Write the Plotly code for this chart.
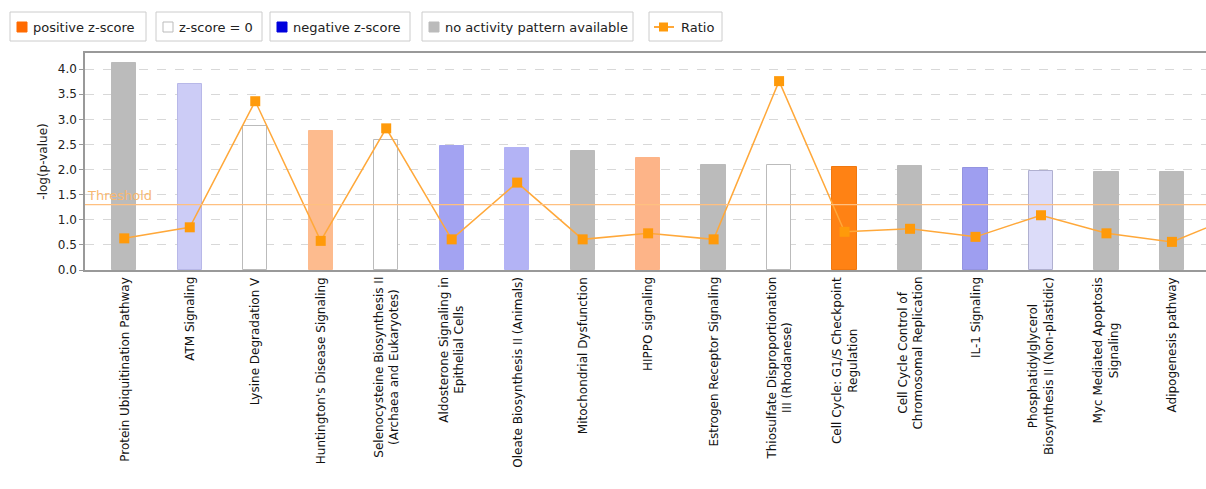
import plotly.graph_objects as go

# Canonical pathways, -log(p-value), z-score category and ratio
pathways = [
    "Protein Ubiquitination Pathway",
    "ATM Signaling",
    "Lysine Degradation V",
    "Huntington's Disease Signaling",
    "Selenocysteine Biosynthesis II<br>(Archaea and Eukaryotes)",
    "Aldosterone Signaling in<br>Epithelial Cells",
    "Oleate Biosynthesis II (Animals)",
    "Mitochondrial Dysfunction",
    "HIPPO signaling",
    "Estrogen Receptor Signaling",
    "Thiosulfate Disproportionation<br>III (Rhodanese)",
    "Cell Cycle: G1/S Checkpoint<br>Regulation",
    "Cell Cycle Control of<br>Chromosomal Replication",
    "IL-1 Signaling",
    "Phosphatidylglycerol<br>Biosynthesis II (Non-plastidic)",
    "Myc Mediated Apoptosis<br>Signaling",
    "Adipogenesis pathway",
]
neg_log_p = [4.13, 3.71, 2.86, 2.77, 2.59, 2.47, 2.43, 2.37, 2.22, 2.10,
             2.10, 2.06, 2.08, 2.04, 1.98, 1.95, 1.95]
bar_fill = ["#bbbbbb", "#ccccf6", "#ffffff", "#fdbb8e", "#ffffff", "#a3a3f2",
            "#b3b3f5", "#bbbbbb", "#fdb488", "#bbbbbb", "#ffffff", "#ff8214",
            "#bbbbbb", "#9e9ef0", "#dcdcf9", "#bbbbbb", "#bbbbbb"]
bar_edge = ["#bbbbbb", "#b8b8e8", "#bbbbbb", "#fdbb8e", "#bbbbbb", "#a3a3f2",
            "#b3b3f5", "#bbbbbb", "#fdb488", "#bbbbbb", "#bbbbbb", "#f07810",
            "#bbbbbb", "#9494e0", "#b0b0d0", "#bbbbbb", "#bbbbbb"]
# ratio series continues one pathway past the visible range
ratio = [0.63, 0.85, 3.36, 0.58, 2.82, 0.61, 1.74, 0.61, 0.73, 0.61,
         3.76, 0.76, 0.82, 0.66, 1.09, 0.73, 0.56, 1.09]
threshold = 1.301

y_ticks = [0.0, 0.5, 1.0, 1.5, 2.0, 2.5, 3.0, 3.5, 4.0]

legend_items = [
    ("positive z-score", "#ff6a00", "#ff6a00"),
    ("z-score = 0", "#ffffff", "#bbbbbb"),
    ("negative z-score", "#0000dd", "#0000dd"),
    ("no activity pattern available", "#bbbbbb", "#bbbbbb"),
]

W, H = 1206, 489
ML, MR, MT, MB = 85, 0, 53, 219
PW, PH = W - ML - MR, H - MT - MB
FONT = "DejaVu Sans"


def px(x):
    return (x - ML) / PW


def py(y):
    return (H - MB - y) / PH


x_idx = list(range(len(pathways)))
ratio_x = list(range(len(ratio)))

fig = go.Figure()
fig.add_trace(go.Bar(
    x=x_idx, y=neg_log_p, width=0.37,
    marker=dict(color=bar_fill, line=dict(color=bar_edge, width=1)),
    showlegend=False, hoverinfo="skip",
))
fig.add_trace(go.Scatter(
    x=ratio_x, y=ratio, mode="lines+markers",
    line=dict(color="#ffa83a", width=1.5),
    marker=dict(symbol="square", size=10, color="#ff9a0a"),
    showlegend=False, cliponaxis=True,
))

shapes = []
annotations = []

# threshold line
shapes.append(dict(type="line", xref="paper", yref="y", x0=0, x1=1,
                   y0=threshold, y1=threshold,
                   line=dict(color="#ffc080", width=1.2), layer="above"))
annotations.append(dict(text="Threshold", xref="paper", yref="y", x=0,
                        y=threshold, xanchor="left", yanchor="bottom",
                        showarrow=False, yshift=0,
                        font=dict(family=FONT, size=13, color="#f8b870")))

# category labels under the axis
for i, name in enumerate(pathways):
    annotations.append(dict(text=name, xref="x", yref="paper", x=i, y=0,
                            xanchor="center", yanchor="top", yshift=-5,
                            textangle=-90, align="center", showarrow=False,
                            font=dict(family=FONT, size=12, color="#111111")))

# legend boxes across the top
box_x = [(10, 146), (156, 262), (270, 410), (422, 633)]
for (label, fill, edge), (x0, x1) in zip(legend_items, box_x):
    shapes.append(dict(type="rect", xref="paper", yref="paper",
                       x0=px(x0), x1=px(x1), y0=py(41), y1=py(12),
                       line=dict(color="#cccccc", width=1),
                       fillcolor="#ffffff"))
    shapes.append(dict(type="rect", xref="paper", yref="paper",
                       x0=px(x0 + 7), x1=px(x0 + 17), y0=py(32), y1=py(22),
                       line=dict(color=edge, width=1), fillcolor=fill))
    annotations.append(dict(text=label, xref="paper", yref="paper",
                            x=px(x0 + 21), y=py(27), xanchor="left",
                            yanchor="middle", showarrow=False,
                            font=dict(family=FONT, size=13, color="#222222")))

shapes.append(dict(type="rect", xref="paper", yref="paper",
                   x0=px(649), x1=px(722), y0=py(41), y1=py(12),
                   line=dict(color="#cccccc", width=1), fillcolor="#ffffff"))
shapes.append(dict(type="line", xref="paper", yref="paper",
                   x0=px(654), x1=px(674), y0=py(27), y1=py(27),
                   line=dict(color="#ffa83a", width=2)))
shapes.append(dict(type="rect", xref="paper", yref="paper",
                   x0=px(659), x1=px(668), y0=py(31.5), y1=py(22.5),
                   line=dict(color="#ff9a0a", width=0), fillcolor="#ff9a0a"))
annotations.append(dict(text="Ratio", xref="paper", yref="paper",
                        x=px(679), y=py(27), xanchor="left", yanchor="middle",
                        showarrow=False,
                        font=dict(family=FONT, size=13, color="#222222")))

fig.update_layout(
    width=W, height=H,
    margin=dict(l=ML, r=MR, t=MT, b=MB, pad=0),
    paper_bgcolor="#ffffff", plot_bgcolor="#ffffff",
    font=dict(family=FONT, size=12, color="#222222"),
    shapes=shapes, annotations=annotations,
    bargap=0,
    xaxis=dict(range=[-0.6, 16.52], tickvals=x_idx, showticklabels=False,
               showgrid=False, zeroline=False, showline=True,
               linecolor="#999999", linewidth=1.5, mirror=True,
               ticks="", fixedrange=True),
    yaxis=dict(range=[0, 4.32], tickvals=y_ticks, tickformat=".1f",
               showgrid=True, gridcolor="#d8d8d8", griddash="dash",
               gridwidth=1, zeroline=False, showline=True,
               linecolor="#999999", linewidth=1.5, ticks="outside",
               ticklen=4, tickcolor="#999999",
               tickfont=dict(family=FONT, size=12, color="#222222"),
               title=dict(text="-log(p-value)", standoff=8,
                          font=dict(family=FONT, size=12, color="#222222"))),
)

fig.write_html("out.html")
